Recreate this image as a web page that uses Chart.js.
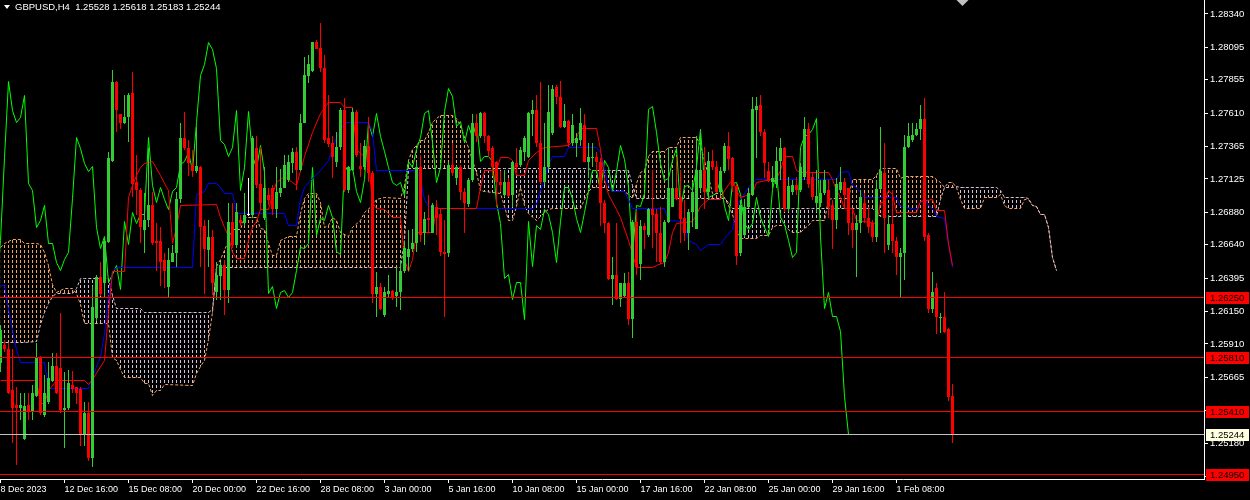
<!DOCTYPE html>
<html>
<head>
<meta charset="utf-8">
<script src="https://cdn.jsdelivr.net/npm/chart.js@4.4.1/dist/chart.umd.min.js"></script>
<style>
  html, body { margin: 0; padding: 0; background: #000; overflow: hidden; }
</style>
</head>
<body>
<canvas id="chart" width="1250" height="500"></canvas>
<script>
// GBPUSD H4 with Ichimoku

const symbol = 'GBPUSD,H4';

const openP = [
  1.2577,1.2590,1.2587,1.2557,1.2546,1.2544,1.2521,1.2546,1.2541,1.2553,
  1.2581,1.2539,1.2548,1.2564,1.2575,1.2573,1.2542,1.2544,1.2561,1.2559,
  1.2558,1.2525,1.2540,1.2507,1.2610,1.2640,1.2636,1.2666,1.2726,1.2784,
  1.2760,1.2754,1.2758,1.2776,1.2710,1.2704,1.2675,1.2682,1.2693,1.2667,
  1.2667,1.2653,1.2633,1.2651,1.2658,1.2698,1.2743,1.2735,1.2723,1.2718,
  1.2721,1.2678,1.2660,1.2670,1.2629,1.2641,1.2649,1.2631,1.2681,1.2664,
  1.2682,1.2680,1.2686,1.2686,1.2735,1.2709,1.2684,1.2701,1.2706,1.2690,
  1.2702,1.2706,1.2712,1.2724,1.2732,1.2719,1.2754,1.2788,1.2792,1.2813,
  1.2809,1.2794,1.2743,1.2739,1.2725,1.2736,1.2763,1.2704,1.2719,1.2762,
  1.2722,1.2721,1.2737,1.2717,1.2628,1.2633,1.2612,1.2628,1.2630,1.2626,
  1.2629,1.2645,1.2655,1.2661,1.2665,1.2721,1.2673,1.2684,1.2673,1.2692,
  1.2687,1.2659,1.2658,1.2723,1.2713,1.2721,1.2703,1.2694,1.2712,1.2754,
  1.2744,1.2761,1.2744,1.2735,1.2725,1.2710,1.2701,1.2710,1.2701,1.2724,
  1.2723,1.2732,1.2729,1.2760,1.2763,1.2739,1.2710,1.2721,1.2746,1.2780,
  1.2773,1.2751,1.2755,1.2739,1.2739,1.2741,1.2752,1.2725,1.2728,1.2729,
  1.2725,1.2695,1.2680,1.2639,1.2642,1.2624,1.2626,1.2636,1.2609,1.2681,
  1.2650,1.2678,1.2671,1.2690,1.2687,1.2673,1.2651,1.2681,1.2692,1.2706,
  1.2699,1.2684,1.2673,1.2688,1.2676,1.2706,1.2719,1.2703,1.2726,1.2721,
  1.2703,1.2718,1.2737,1.2728,1.2707,1.2658,1.2671,1.2692,1.2701,1.2763,
  1.2767,1.2747,1.2718,1.2710,1.2709,1.2726,1.2735,1.2690,1.2703,1.2708,
  1.2704,1.2714,1.2749,1.2714,1.2695,1.2695,1.2702,1.2704,1.2693,1.2682,
  1.2704,1.2710,1.2706,1.2680,1.2675,1.2680,1.2695,1.2684,1.2680,1.2670,
  1.2705,1.2717,1.2664,1.2679,1.2667,1.2655,1.2658,1.2736,1.2741,1.2745,
  1.2749,1.2757,1.2671,1.2617,1.2632,1.2610,1.2611,1.2602,1.25528
];
const highP = [
  1.2605,1.2594,1.2592,1.2587,1.2559,1.2555,1.2555,1.2555,1.2561,1.2592,
  1.2582,1.2568,1.2578,1.2584,1.2584,1.2614,1.2570,1.2572,1.2571,1.2559,
  1.2559,1.2548,1.2548,1.2634,1.2642,1.2651,1.2670,1.2732,1.2793,1.2785,
  1.2760,1.2774,1.2776,1.2791,1.2730,1.2706,1.2702,1.2735,1.2703,1.2680,
  1.2677,1.2658,1.2662,1.2664,1.2703,1.2754,1.2762,1.2741,1.2734,1.2751,
  1.2722,1.2682,1.2682,1.2675,1.2651,1.2651,1.2653,1.2695,1.2695,1.2695,
  1.2686,1.2702,1.2713,1.2744,1.2744,1.2736,1.2721,1.2706,1.2708,1.2721,
  1.2720,1.2730,1.2730,1.2735,1.2736,1.2760,1.2802,1.2804,1.2813,1.2815,
  1.2827,1.2804,1.2774,1.2744,1.2747,1.2765,1.2772,1.2722,1.2765,1.2763,
  1.2739,1.2741,1.2758,1.2718,1.2644,1.2636,1.2633,1.2642,1.2631,1.2648,
  1.2653,1.2667,1.2675,1.2676,1.2725,1.2730,1.2688,1.2701,1.2695,1.2697,
  1.2690,1.2682,1.2725,1.2739,1.2722,1.2723,1.2706,1.2713,1.2760,1.2760,
  1.2762,1.2762,1.2745,1.2737,1.2726,1.2718,1.2719,1.2713,1.2726,1.2735,
  1.2736,1.2744,1.2762,1.2771,1.2774,1.2784,1.2754,1.2782,1.2782,1.2782,
  1.2785,1.2768,1.2756,1.2760,1.2746,1.2765,1.2760,1.2739,1.2739,1.2732,
  1.2728,1.2697,1.2681,1.2655,1.2680,1.2636,1.2643,1.2644,1.2682,1.2688,
  1.2682,1.2680,1.2691,1.2719,1.2690,1.2692,1.2682,1.2735,1.2718,1.2729,
  1.2719,1.2697,1.2690,1.2710,1.2744,1.2749,1.2736,1.2732,1.2734,1.2726,
  1.2721,1.2739,1.2747,1.2729,1.2709,1.2697,1.2698,1.2706,1.2773,1.2773,
  1.2774,1.2749,1.2725,1.2722,1.2736,1.2743,1.2736,1.2714,1.2712,1.2714,
  1.2724,1.2758,1.2754,1.2717,1.2719,1.2712,1.2719,1.2712,1.2697,1.2713,
  1.2721,1.2713,1.2706,1.2690,1.2686,1.2704,1.2702,1.2692,1.2682,1.2712,
  1.2751,1.2739,1.2686,1.2704,1.2670,1.2662,1.2745,1.2754,1.2754,1.2754,
  1.2767,1.2772,1.2673,1.2644,1.2636,1.2614,1.2629,1.2603,1.25618
];
const lowP = [
  1.2570,1.2585,1.2554,1.2518,1.2502,1.2535,1.2520,1.2535,1.2535,1.2552,
  1.2539,1.2537,1.2547,1.2563,1.2554,1.2540,1.2514,1.2542,1.2555,1.2547,
  1.2516,1.2516,1.2505,1.2500,1.2608,1.2626,1.2625,1.2665,1.2725,1.2747,
  1.2749,1.2753,1.2740,1.2699,1.2686,1.2665,1.2658,1.2677,1.2664,1.2645,
  1.2634,1.2632,1.2625,1.2651,1.2648,1.2695,1.2734,1.2715,1.2714,1.2717,
  1.2648,1.2628,1.2648,1.2627,1.2623,1.2623,1.2612,1.2621,1.2662,1.2662,
  1.2678,1.2678,1.2685,1.2684,1.2706,1.2690,1.2682,1.2693,1.2686,1.2684,
  1.2699,1.2706,1.2710,1.2717,1.2704,1.2718,1.2754,1.2783,1.2791,1.2808,
  1.2791,1.2739,1.2736,1.2713,1.2721,1.2734,1.2703,1.2702,1.2718,1.2729,
  1.2714,1.2719,1.2710,1.2621,1.2611,1.2616,1.2611,1.2625,1.2623,1.2618,
  1.2616,1.2643,1.2645,1.2659,1.2659,1.2666,1.2664,1.2673,1.2673,1.2671,
  1.2656,1.2611,1.2655,1.2715,1.2708,1.2697,1.2673,1.2692,1.2710,1.2740,
  1.2743,1.2739,1.2729,1.2715,1.2692,1.2703,1.2699,1.2699,1.2692,1.2717,
  1.2721,1.2726,1.2728,1.2744,1.2736,1.2709,1.2708,1.2719,1.2745,1.2768,
  1.2750,1.2750,1.2736,1.2737,1.2729,1.2737,1.2725,1.2713,1.2721,1.2718,
  1.2678,1.2673,1.2638,1.2620,1.2623,1.2618,1.2625,1.2605,1.2595,1.2642,
  1.2638,1.2661,1.2670,1.2662,1.2651,1.2650,1.2648,1.2680,1.2692,1.2697,
  1.2665,1.2667,1.2660,1.2677,1.2676,1.2703,1.2690,1.2697,1.2719,1.2702,
  1.2699,1.2717,1.2719,1.2703,1.2649,1.2656,1.2670,1.2691,1.2700,1.2728,
  1.2744,1.2713,1.2710,1.2706,1.2706,1.2712,1.2688,1.2688,1.2701,1.2701,
  1.2703,1.2712,1.2706,1.2697,1.2688,1.2692,1.2701,1.2684,1.2661,1.2676,
  1.2702,1.2691,1.2671,1.2662,1.2640,1.2673,1.2680,1.2673,1.2666,1.2666,
  1.2704,1.2658,1.2660,1.2658,1.2642,1.2625,1.2638,1.2735,1.2740,1.2744,
  1.2741,1.2667,1.2614,1.2614,1.2598,1.2599,1.2599,1.2549,1.25183
];
const closeP = [
  1.2601,1.2587,1.2555,1.2544,1.2544,1.2546,1.2545,1.2541,1.2555,1.2581,
  1.2540,1.2555,1.2566,1.2575,1.2555,1.2542,1.2544,1.2562,1.2558,1.2555,
  1.2525,1.2540,1.2507,1.2618,1.2640,1.2628,1.2667,1.2728,1.2784,1.2763,
  1.2754,1.2758,1.2774,1.2709,1.2704,1.2677,1.2682,1.2693,1.2665,1.2665,
  1.2651,1.2645,1.2653,1.2658,1.2698,1.2743,1.2735,1.2724,1.2718,1.2722,
  1.2677,1.2661,1.2670,1.2636,1.2642,1.2649,1.2631,1.2681,1.2664,1.2688,
  1.2680,1.2686,1.2686,1.2743,1.2708,1.2695,1.2706,1.2697,1.2690,1.2703,
  1.2706,1.2723,1.2725,1.2732,1.2719,1.2754,1.2789,1.2797,1.2813,1.2808,
  1.2794,1.2741,1.2738,1.2729,1.2736,1.2763,1.2704,1.2721,1.2762,1.2730,
  1.2720,1.2737,1.2717,1.2628,1.2633,1.2617,1.2629,1.2630,1.2625,1.2629,
  1.2645,1.2662,1.2661,1.2665,1.2721,1.2671,1.2683,1.2682,1.2693,1.2684,
  1.2659,1.2657,1.2723,1.2717,1.2721,1.2703,1.2695,1.2712,1.2754,1.2744,
  1.2761,1.2744,1.2733,1.2721,1.2710,1.2708,1.2710,1.2700,1.2725,1.2721,
  1.2734,1.2743,1.2761,1.2763,1.2739,1.2710,1.2721,1.2762,1.2779,1.2773,
  1.2751,1.2755,1.2739,1.2752,1.2743,1.2754,1.2725,1.2729,1.2729,1.2725,
  1.2695,1.2680,1.2639,1.2642,1.2624,1.2636,1.2636,1.2609,1.2681,1.2648,
  1.2678,1.2675,1.2690,1.2686,1.2673,1.2651,1.2681,1.2706,1.2706,1.2698,
  1.2683,1.2673,1.2688,1.2703,1.2719,1.2719,1.2703,1.2726,1.2721,1.2703,
  1.2718,1.2737,1.2727,1.2707,1.2656,1.2693,1.2692,1.2702,1.2764,1.2766,
  1.2747,1.2724,1.2711,1.2713,1.2726,1.2735,1.2690,1.2707,1.2708,1.2704,
  1.2721,1.2749,1.2709,1.2699,1.2700,1.2702,1.2712,1.2692,1.2682,1.2709,
  1.2710,1.2701,1.2680,1.2675,1.2680,1.2699,1.2684,1.2677,1.2670,1.2705,
  1.2718,1.2684,1.2679,1.2667,1.2655,1.2658,1.2736,1.2744,1.2745,1.2749,
  1.2757,1.2670,1.2617,1.2629,1.2611,1.2611,1.2600,1.2552,1.25244
];

// Ichimoku lines as [bar, price] vertices
const tenkan = [
  [0,1.2564],[9,1.2564],[10,1.2547],[11,1.2547],[12,1.2557],[14,1.2564],[21,1.2564],[22,1.2561],
  [23,1.2565],[26,1.2579],[27,1.2614],[28,1.2644],[31,1.2644],[32,1.2699],[33,1.2708],[34,1.2715],
  [35,1.2721],[36,1.2724],[38,1.2725],[40,1.2715],[41,1.2709],[42,1.2704],[43,1.2665],[44,1.2677],
  [45,1.2693],[54,1.2694],[55,1.2684],[56,1.2677],[57,1.2670],[58,1.2658],[59,1.2654],[61,1.2654],
  [62,1.2667],[63,1.2677],[64,1.2681],[65,1.2690],[67,1.2690],[68,1.2701],[69,1.2710],[71,1.2714],
  [73,1.2710],[74,1.2708],[76,1.2729],[78,1.2747],[80,1.2761],[82,1.2769],[85,1.2769],[86,1.2765],
  [88,1.2765],[89,1.2734],[92,1.2726],[93,1.2695],[94,1.2691],[96,1.2690],[98,1.2684],[100,1.2684],
  [101,1.2653],[102,1.2644],[103,1.2653],[104,1.2673],[108,1.2673],[109,1.2691],[119,1.2691],
  [120,1.2706],[121,1.2719],[124,1.2719],[125,1.2728],[127,1.2728],[128,1.2726],[129,1.2715],
  [131,1.2715],[132,1.2726],[134,1.2732],[136,1.2736],[142,1.2737],[144,1.2743],[145,1.2750],
  [149,1.2750],[150,1.2734],[151,1.2712],[152,1.2701],[154,1.2690],[155,1.2684],[157,1.2667],
  [159,1.2647],[163,1.2647],[164,1.2649],[166,1.2651],[167,1.2658],[168,1.2673],[169,1.2680],
  [173,1.2681],[174,1.2686],[175,1.2692],[177,1.2697],[180,1.2697],[181,1.2704],[183,1.2712],
  [184,1.2704],[185,1.2699],[188,1.2702],[189,1.2710],[194,1.2713],[195,1.2719],[196,1.2729],
  [198,1.2729],[199,1.2719],[200,1.2717],[207,1.2717],[208,1.2712],[209,1.2704],[210,1.2699],
  [211,1.2691],[213,1.2691],[214,1.2682],[219,1.2680],[220,1.2695],[221,1.2695],[222,1.2704],
  [223,1.2701],[224,1.2688],[229,1.2688],[230,1.2696],[233,1.2697],[234,1.2689],[236,1.2689],
  [237,1.2665],[238,1.2649]
];
const kijun = [
  [0,1.2634],[1,1.2634],[2,1.2616],[3,1.2601],[4,1.2587],[5,1.2577],[11,1.2577],[12,1.2558],
  [22,1.2558],[23,1.2566],[24,1.2574],[25,1.2581],[26,1.2599],[27,1.2625],[28,1.2644],[29,1.2647],
  [48,1.2647],[49,1.2701],[51,1.2703],[52,1.2709],[54,1.2709],[55,1.2706],[56,1.2702],[58,1.2702],
  [59,1.2687],[71,1.2687],[72,1.2678],[74,1.2678],[75,1.2697],[76,1.2706],[77,1.2710],[80,1.2719],
  [82,1.2726],[84,1.2743],[85,1.2748],[86,1.2754],[92,1.2754],[93,1.2747],[94,1.2719],[104,1.2719],
  [105,1.2712],[106,1.2697],[107,1.2692],[109,1.2691],[133,1.2691],[134,1.2694],[135,1.2704],
  [136,1.2712],[137,1.2723],[138,1.2729],[141,1.2729],[142,1.2736],[149,1.2736],[150,1.2732],
  [151,1.2719],[152,1.2708],[153,1.2703],[156,1.2703],[157,1.2697],[158,1.2691],[166,1.2691],
  [167,1.2682],[171,1.2681],[172,1.2667],[173,1.2666],[174,1.2664],[175,1.2660],[176,1.2662],
  [177,1.2664],[180,1.2664],[181,1.2669],[183,1.2675],[184,1.2690],[185,1.2697],[186,1.2702],
  [187,1.2706],[188,1.2710],[189,1.2712],[209,1.2712],[210,1.2717],[212,1.2718],[213,1.2708],
  [214,1.2706],[216,1.2699],[224,1.2699],[225,1.2692],[229,1.2690],[230,1.2695],[231,1.2698],
  [232,1.2693],[233,1.2691],[234,1.2685],[236,1.2683],[237,1.2664],[238,1.2647]
];
const spanA = [
  [0,1.2662],[1,1.2665],[3,1.2668],[5,1.2668],[6,1.2665],[9,1.2665],[10,1.2664],[11,1.2658],
  [12,1.2649],[13,1.2635],[14,1.2629],[15,1.2630],[16,1.2632],[18,1.2632],[19,1.2628],[20,1.2620],
  [21,1.2606],[27,1.2606],[28,1.2581],[29,1.2579],[30,1.2572],[31,1.2566],[35,1.2566],[36,1.2562],
  [37,1.2562],[38,1.2553],[39,1.2557],[40,1.2557],[41,1.2561],[48,1.2560],[49,1.2569],[50,1.2574],
  [51,1.2579],[52,1.2594],[53,1.2614],[54,1.2648],[55,1.2653],[56,1.2660],[57,1.2667],[58,1.2675],
  [60,1.2675],[61,1.2684],[64,1.2684],[65,1.2676],[66,1.2675],[67,1.2665],[68,1.2656],[69,1.2656],
  [70,1.2667],[72,1.2670],[74,1.2670],[75,1.2687],[76,1.2698],[77,1.2702],[79,1.2702],[80,1.2695],
  [81,1.2677],[82,1.2678],[83,1.2684],[84,1.2682],[85,1.2673],[87,1.2670],[88,1.2677],[90,1.2682],
  [91,1.2688],[93,1.2693],[94,1.2697],[96,1.2699],[100,1.2698],[101,1.2708],[102,1.2726],
  [103,1.2734],[104,1.2737],[105,1.2741],[106,1.2741],[107,1.2747],[108,1.2754],[109,1.2757],
  [110,1.2759],[113,1.2759],[114,1.2757],[115,1.2752],[116,1.2743],[117,1.2736],[118,1.2726],
  [119,1.2717],[120,1.2704],[121,1.2703],[125,1.2702],[126,1.2692],[127,1.2682],[128,1.2682],
  [129,1.2692],[130,1.2706],[131,1.2693],[132,1.2687],[134,1.2682],[135,1.2685],[136,1.2688],
  [137,1.2690],[138,1.2691],[145,1.2691],[146,1.2697],[147,1.2703],[148,1.2706],[151,1.2706],
  [152,1.2704],[156,1.2703],[157,1.2701],[158,1.2698],[159,1.2709],[160,1.2717],[161,1.2719],
  [162,1.2729],[163,1.2733],[166,1.2733],[167,1.2736],[169,1.2736],[170,1.2743],[174,1.2743],
  [175,1.2737],[176,1.2726],[177,1.2714],[178,1.2702],[180,1.2702],[181,1.2699],[182,1.2693],
  [183,1.2686],[184,1.2676],[185,1.2669],[189,1.2669],[190,1.2671],[192,1.2671],[193,1.2677],
  [194,1.2678],[196,1.2678],[197,1.2675],[198,1.2673],[200,1.2673],[201,1.2676],[202,1.2678],
  [203,1.2682],[206,1.2682],[207,1.2697],[208,1.2698],[212,1.2698],[213,1.2712],[218,1.2712],
  [219,1.2715],[220,1.2720],[224,1.2720],[225,1.2713],[226,1.2714],[233,1.2714],[234,1.2712],
  [235,1.2710],[236,1.2706],[237,1.2710],[238,1.2710],[239,1.2706],[240,1.2697],[241,1.2691],
  [245,1.2691],[246,1.2699],[249,1.2699],[250,1.2701],[251,1.2693],[252,1.2691],[255,1.2691],
  [256,1.2697],[257,1.2697],[258,1.2693],[259,1.2692],[260,1.2686],[261,1.2686],[262,1.2677],
  [263,1.2655],[264,1.2645]
];
const spanB = [
  [0,1.2592],[1,1.2592],[3,1.2592],[5,1.2592],[6,1.2592],[9,1.2593],[10,1.2605],[11,1.2614],
  [12,1.2621],[13,1.2626],[14,1.2628],[15,1.2628],[16,1.2628],[18,1.2628],[19,1.2632],[20,1.2639],
  [21,1.2639],[27,1.2639],[28,1.2627],[29,1.2617],[30,1.2617],[31,1.2617],[35,1.2617],[36,1.2614],
  [37,1.2614],[38,1.2614],[39,1.2614],[40,1.2614],[41,1.2614],[48,1.2614],[49,1.2614],[50,1.2614],
  [51,1.2614],[52,1.2614],[53,1.2616],[54,1.2647],[55,1.2647],[56,1.2647],[57,1.2647],[58,1.2647],
  [60,1.2647],[61,1.2647],[64,1.2647],[65,1.2647],[66,1.2647],[67,1.2647],[68,1.2647],[69,1.2647],
  [70,1.2647],[72,1.2647],[74,1.2647],[75,1.2647],[76,1.2647],[77,1.2647],[79,1.2647],[80,1.2647],
  [81,1.2647],[82,1.2647],[83,1.2647],[84,1.2647],[85,1.2647],[87,1.2647],[88,1.2647],[90,1.2647],
  [91,1.2647],[93,1.2647],[94,1.2647],[96,1.2647],[100,1.2647],[101,1.2667],[102,1.2720],
  [103,1.2720],[104,1.2720],[105,1.2720],[106,1.2720],[107,1.2720],[108,1.2720],[109,1.2720],
  [110,1.2720],[113,1.2720],[114,1.2720],[115,1.2720],[116,1.2720],[117,1.2720],[118,1.2720],
  [119,1.2720],[120,1.2720],[121,1.2720],[125,1.2720],[126,1.2720],[127,1.2720],[128,1.2720],
  [129,1.2720],[130,1.2720],[131,1.2720],[132,1.2720],[134,1.2720],[135,1.2720],[136,1.2720],
  [137,1.2720],[138,1.2720],[145,1.2720],[146,1.2720],[147,1.2720],[148,1.2719],[151,1.2719],
  [152,1.2719],[156,1.2719],[157,1.2719],[158,1.2708],[159,1.2698],[160,1.2698],[161,1.2698],
  [162,1.2698],[163,1.2698],[166,1.2698],[167,1.2698],[169,1.2698],[170,1.2698],[174,1.2698],
  [175,1.2698],[176,1.2698],[177,1.2698],[178,1.2698],[180,1.2698],[181,1.2698],[182,1.2695],
  [183,1.2691],[184,1.2691],[185,1.2691],[189,1.2691],[190,1.2691],[192,1.2691],[193,1.2691],
  [194,1.2691],[196,1.2691],[197,1.2691],[198,1.2691],[200,1.2691],[201,1.2691],[202,1.2691],
  [203,1.2691],[206,1.2691],[207,1.2691],[208,1.2691],[212,1.2691],[213,1.2691],[218,1.2691],
  [219,1.2688],[220,1.2685],[224,1.2685],[225,1.2685],[226,1.2685],[233,1.2685],[234,1.2685],
  [235,1.2697],[236,1.2706],[237,1.2706],[238,1.2706],[239,1.2707],[240,1.2706],[241,1.2706],
  [245,1.2706],[246,1.2706],[249,1.2706],[250,1.2704],[251,1.2699],[252,1.2699],[255,1.2699],
  [256,1.2699],[257,1.2698],[258,1.2693],[259,1.2692],[260,1.2686],[261,1.2686],[262,1.2677],
  [263,1.2655],[264,1.2645]
];
const chikouShift = 26;

// horizontal levels
const redLevels = [1.26250, 1.25810, 1.25410, 1.24950];
const bidPrice = 1.25244;

// axes
const yTicks = [1.28340,1.28095,1.27855,1.27610,1.27365,1.27125,1.26880,1.26640,
                1.26395,1.26150,1.25910,1.25665,1.25420,1.25180,1.24935];
const xTickBars = [0,16,32,48,64,80,96,112,128,144,160,176,192,208,224];
const xTickLabels = ['8 Dec 2023','12 Dec 16:00','15 Dec 08:00','20 Dec 00:00','22 Dec 16:00',
  '28 Dec 08:00','3 Jan 00:00','5 Jan 16:00','10 Jan 08:00','15 Jan 00:00','17 Jan 16:00',
  '22 Jan 08:00','25 Jan 00:00','29 Jan 16:00','1 Feb 08:00'];
const shiftBar = 240.5;

const yMin = 1.24915, yMax = 1.28443;
const xMin = -0.125, xMax = 300.875;

const canvas = document.getElementById('chart');
const ctx = canvas.getContext('2d');
Chart.defaults.font.family = '"Liberation Sans", Arial, sans-serif';

// vertical dotted hatch like the MT4 cloud histogram
function hatch(color) {
  const t = document.createElement('canvas');
  t.width = 4; t.height = 5;
  const g = t.getContext('2d');
  g.fillStyle = color;
  g.fillRect(0, 0, 1, 3);
  return ctx.createPattern(t, 'repeat');
}

const upColor = '#32CD32', downColor = '#FF0000';
const bars = openP.map((_, i) => i);
const candleColors = bars.map(i => closeP[i] > openP[i] ? upColor : (closeP[i] < openP[i] ? downColor : '#FFFFFF'));
const toPts = arr => arr.map(p => ({x: p[0], y: p[1]}));

const lineBase = {type: 'line', borderWidth: 1, pointRadius: 0, pointHoverRadius: 0, tension: 0, fill: false};

const datasets = [
  Object.assign({}, lineBase, {
    label: 'Senkou A', data: toPts(spanA), borderColor: '#F4A460', borderDash: [3, 2],
    fill: {target: '+1', above: hatch('#F4A460'), below: hatch('#D8BFD8')}, order: 10
  }),
  Object.assign({}, lineBase, {
    label: 'Senkou B', data: toPts(spanB), borderColor: '#D8BFD8', borderDash: [3, 2], order: 9
  }),
  Object.assign({}, lineBase, {
    label: 'Chikou', data: bars.map(i => ({x: i - chikouShift, y: closeP[i]})), borderColor: '#00FF00', order: 8
  }),
  Object.assign({}, lineBase, {label: 'Kijun', data: toPts(kijun), borderColor: '#0000FF', order: 7}),
  Object.assign({}, lineBase, {label: 'Tenkan', data: toPts(tenkan), borderColor: '#FF0000', order: 6}),
  {
    type: 'bar', label: 'wicks', data: bars.map(i => ({x: i, y: [lowP[i], highP[i]]})),
    backgroundColor: candleColors, borderWidth: 0, grouped: false, barPercentage: 1, categoryPercentage: 1,
    barThickness: 1, maxBarThickness: 1, inflateAmount: 0, order: 3
  },
  {
    type: 'bar', label: 'bodies', data: bars.map(i => ({x: i, y: [openP[i], closeP[i]]})),
    backgroundColor: candleColors, borderWidth: 0, grouped: false, barPercentage: 1, categoryPercentage: 1,
    barThickness: 3, maxBarThickness: 3, inflateAmount: 0, minBarLength: 1, order: 2
  }
];

// snap element pixels so 1px lines stay crisp like the terminal's
const snap = {
  id: 'snap',
  afterDatasetUpdate(chart, args) {
    const meta = args.meta;
    if (meta.type === 'line') {
      meta.data.forEach(p => { p.y = Math.floor(p.y) + 0.5; });
    } else if (meta.type === 'bar') {
      meta.data.forEach(b => {
        const top = Math.round(Math.min(b.y, b.base));
        let bot = Math.round(Math.max(b.y, b.base));
        if (bot <= top) bot = top + 1;
        b.y = top;
        b.base = bot;
      });
    }
  }
};

const overlay = {
  id: 'overlay',
  beforeDraw(chart) {
    const c = chart.ctx;
    c.save();
    c.fillStyle = '#000000';
    c.fillRect(0, 0, chart.width, chart.height);
    c.restore();
  },
  afterDatasetsDraw(chart) {
    // horizontal price lines, 1px on whole pixels
    const c = chart.ctx, ys = chart.scales.y, a = chart.chartArea;
    c.save();
    const hline = (v, col) => {
      c.fillStyle = col;
      c.fillRect(a.left, Math.floor(ys.getPixelForValue(v)), a.right - a.left, 1);
    };
    redLevels.forEach(v => hline(v, '#FF0000'));
    hline(bidPrice, '#C0C0C0');
    c.restore();
  },
  afterDraw(chart) {
    const c = chart.ctx, ys = chart.scales.y, xs = chart.scales.x;
    const right = chart.chartArea.right;
    c.save();
    c.font = '9.5px "Liberation Sans"';
    c.textBaseline = 'middle';
    c.textAlign = 'left';
    const tag = (v, bg, fg) => {
      const py = Math.floor(ys.getPixelForValue(v));
      c.fillStyle = bg;
      c.fillRect(right + 2, py - 5, 43, 12);
      c.fillStyle = fg;
      c.fillText(v.toFixed(5), right + 6, py + 1);
    };
    redLevels.forEach(v => tag(v, '#FF0000', '#000000'));
    tag(bidPrice, '#FFFFE0', '#000000');

    // header line
    const last = openP.length - 1;
    const header = symbol + '  ' + [openP[last], highP[last], lowP[last], closeP[last]].map(v => v.toFixed(5)).join(' ');
    c.fillStyle = '#FFFFFF';
    c.beginPath(); c.moveTo(4, 5); c.lineTo(10, 5); c.lineTo(7, 9); c.closePath(); c.fill();
    c.fillText(header, 15, 7.5);

    // chart shift marker
    const mx = xs.getPixelForValue(shiftBar);
    c.fillStyle = '#C0C0C0';
    c.beginPath(); c.moveTo(mx - 6, 0); c.lineTo(mx + 6, 0); c.lineTo(mx, 6); c.closePath(); c.fill();
    c.restore();
  }
};

new Chart(ctx, {
  type: 'line',
  data: {datasets: datasets},
  options: {
    responsive: false,
    animation: false,
    devicePixelRatio: 1,
    events: [],
    layout: {padding: 0},
    plugins: {legend: {display: false}, tooltip: {enabled: false}, title: {display: false}},
    scales: {
      x: {
        type: 'linear', min: xMin, max: xMax, offset: false,
        afterBuildTicks: s => { s.ticks = xTickBars.map(v => ({value: v})); },
        afterFit: s => { s.height = 21; s.paddingLeft = 0; s.paddingRight = 0; },
        grid: {display: true, offset: false, drawOnChartArea: false, drawTicks: true, tickLength: 4, color: '#FFFFFF'},
        border: {display: true, color: '#FFFFFF', width: 1},
        ticks: {
          align: 'start', color: '#FFFFFF', font: {size: 9}, maxRotation: 0, minRotation: 0,
          autoSkip: false, padding: 1, callback: (v, i) => xTickLabels[i]
        }
      },
      y: {
        type: 'linear', position: 'right', min: yMin, max: yMax, beginAtZero: false,
        afterBuildTicks: s => { s.ticks = yTicks.map(v => ({value: v})); },
        afterFit: s => { s.width = 46; s.paddingTop = 0; s.paddingBottom = 0; },
        grid: {display: true, drawOnChartArea: false, drawTicks: true, tickLength: 4, color: '#FFFFFF'},
        border: {display: true, color: '#FFFFFF', width: 1},
        ticks: {color: '#FFFFFF', font: {size: 9.5}, padding: 2, autoSkip: false, callback: v => v.toFixed(5)}
      }
    }
  },
  plugins: [snap, overlay]
});
</script>
</body>
</html>
